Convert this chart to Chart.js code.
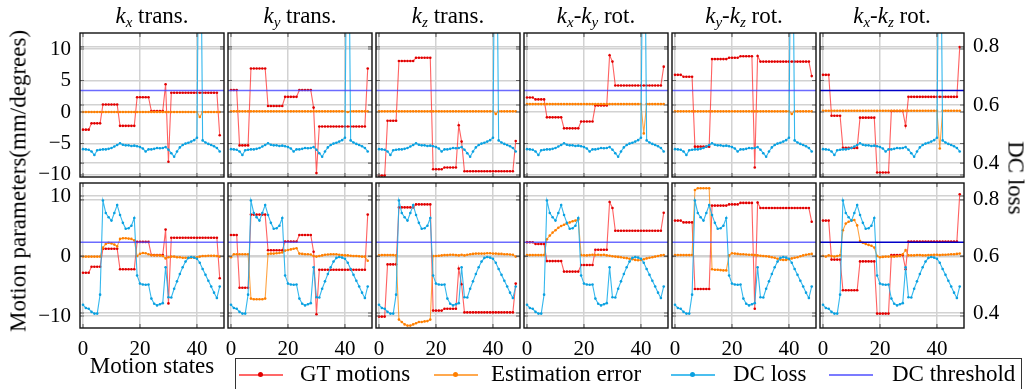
<!DOCTYPE html>
<html>
<head>
<meta charset="utf-8">
<script src="https://cdn.jsdelivr.net/npm/chart.js@4.4.1/dist/chart.umd.min.js"></script>
<style>
  body { margin: 0; background: #fff; width: 1027px; height: 389px; overflow: hidden; position: relative; font-family: "Liberation Serif", "Times New Roman", serif; }
  canvas { position: absolute; }
  .lbl { position: absolute; white-space: nowrap; color: #000; font-size: 23px; line-height: 1; }
  .title { text-align: center; width: 144px; top: 4px; }
  .title sub { font-size: 15px; vertical-align: -4px; line-height: 0; }
  #legend { position: absolute; left: 235px; top: 358px; width: 787px; height: 40px; border: 1px solid #333; box-sizing: border-box; }
  .swatch { position: absolute; height: 0; border-top: 2px solid; top: 15px; width: 44px; }
  .swatch i { position: absolute; left: 19px; top: -4px; width: 5px; height: 5px; border-radius: 50%; }
</style>
</head>
<body>
<div id="panels"></div>
<div class="lbl" style="left:18px; top:181px; transform: translate(-50%, -50%) rotate(-90deg);">Motion parameters(mm/degrees)</div>
<div class="lbl" style="left:1016px; top:178px; transform: translate(-50%, -50%) rotate(90deg);">DC loss</div>
<div class="lbl" style="left:152px; top:354px; transform: translateX(-50%);">Motion states</div>
<div id="legend">
  <div class="swatch" style="left:3px; border-color:rgba(255,40,40,0.7);"><i style="background:#e00000"></i></div>
  <div class="lbl" style="left:64px; top:3px;">GT motions</div>
  <div class="swatch" style="left:198px; border-color:rgba(255,140,20,0.75);"><i style="background:#ff7f00"></i></div>
  <div class="lbl" style="left:255px; top:3px;">Estimation error</div>
  <div class="swatch" style="left:435px; border-color:rgba(30,175,235,0.8);"><i style="background:#0aa0e0"></i></div>
  <div class="lbl" style="left:497px; top:3px;">DC loss</div>
  <div class="swatch" style="left:593px; border-color:rgba(90,90,255,0.8);"></div>
  <div class="lbl" style="left:656px; top:3px;">DC threshold</div>
</div>
<script>
// motion state index on the x axis
const motionStates = [0,1,2,3,4,5,6,7,8,9,10,11,12,13,14,15,16,17,18,19,20,21,22,23,24,25,26,27,28,29,30,31,32,33,34,35,36,37,38,39,40,41,42,43,44,45,46,47,48];

const panelTitles = [
  "<i>k</i><sub><i>x</i></sub> trans.",
  "<i>k</i><sub><i>y</i></sub> trans.",
  "<i>k</i><sub><i>z</i></sub> trans.",
  "<i>k</i><sub><i>x</i></sub>-<i>k</i><sub><i>y</i></sub> rot.",
  "<i>k</i><sub><i>y</i></sub>-<i>k</i><sub><i>z</i></sub> rot.",
  "<i>k</i><sub><i>x</i></sub>-<i>k</i><sub><i>z</i></sub> rot."
];

const xTicks = [0, 20, 40];
const leftTicksTop = [-10, -5, 0, 5, 10];
const leftTicksBottom = [-10, 0, 10];
const rightTicks = [0.4, 0.6, 0.8];

const dcThreshold = 0.65;

// GT motions (same in both rows)
const gtKx = [-2.8,-2.8,-2.8,-1.8,-1.8,-1.8,-1.8,1.2,1.2,1.2,1.2,1.2,1.2,-2.2,-2.2,-2.2,-2.2,-2.2,-2.2,2.35,2.35,2.35,2.35,2.35,0.15,0.15,0.15,0.15,0.15,4.4,-7.9,3.05,3.05,3.05,3.05,3.05,3.05,3.05,3.05,3.05,3.05,3.05,3.05,3.05,3.05,3.05,3.05,3.05,-3.7];
const gtKy = [3.5,3.5,3.5,-5.3,-5.3,-5.3,-5.3,6.9,6.9,6.9,6.9,6.9,6.9,0.95,0.95,0.95,0.95,0.95,0.95,2.4,2.4,2.4,2.4,2.4,3.5,3.5,3.5,3.5,3.5,0.7,-9.7,-2.3,-2.3,-2.3,-2.3,-2.3,-2.3,-2.3,-2.3,-2.3,-2.3,-2.3,-2.3,-2.3,-2.3,-2.3,-2.3,-2.3,6.9];
const gtKz = [-10.1,-10.1,-10.1,-1.4,-1.4,-1.4,-1.4,8.1,8.1,8.1,8.1,8.1,8.1,8.6,8.6,8.6,8.6,8.6,8.6,-9.1,-9.1,-9.1,-9.1,-8.8,-8.8,-8.8,-8.8,-8.8,-2.1,-4.7,-9.4,-9.4,-9.4,-9.4,-9.4,-9.4,-9.4,-9.4,-9.4,-9.4,-9.4,-9.4,-9.4,-9.4,-9.4,-9.4,-9.4,-9.4,-4.6];
const gtKxKy = [2.3,2.3,2.3,2.0,2.0,2.0,2.0,-0.85,-0.85,-0.85,-0.85,-0.85,-0.85,-2.6,-2.6,-2.6,-2.6,-2.6,-2.6,-1.5,-1.5,-1.5,-1.5,-1.5,1.05,1.05,1.05,1.05,1.05,9.0,8.0,4.2,4.2,4.2,4.2,4.2,4.2,4.2,4.2,4.2,4.2,4.2,4.2,4.2,4.2,4.2,4.2,4.2,7.2];
const gtKyKz = [5.9,5.9,5.9,5.6,5.6,5.6,5.6,-5.5,-5.5,-5.5,-5.5,-5.5,-5.5,8.4,8.4,8.4,8.4,8.4,8.4,8.6,8.6,8.6,8.6,8.85,8.85,8.85,8.85,8.85,-8.8,8.9,8.0,8.0,8.0,8.0,8.0,8.0,8.0,8.0,8.0,8.0,8.0,8.0,8.0,8.0,8.0,8.0,8.0,8.0,5.7];
const gtKxKz = [5.9,5.9,5.9,-0.6,-0.6,-0.6,-0.6,-5.7,-5.7,-5.7,-5.7,-5.7,-5.7,-0.9,-0.9,-0.9,-0.9,-0.9,-0.9,-9.6,-9.6,-9.6,-9.6,-9.6,0.15,0.15,0.15,0.15,0.15,-2.2,2.4,2.4,2.4,2.4,2.4,2.4,2.4,2.4,2.4,2.4,2.4,2.4,2.4,2.4,2.4,2.4,2.4,2.4,10.3];

// Estimation error, top row
const errTopKx = [0,0,0,0,0,0,0,0,0,0,0,0,0,0,0,0,0,0,0,0,0,0,0,0,0,0,0,0,0,0,0,0,0,0,0,0,0,0,0,0,0,-0.8,0,0,0,0,0,0,0];
const errTopKy = [0.1,0.1,0.1,0.1,0.1,0.1,0.1,0.1,0.1,0.1,0.1,0.1,0.1,0.1,0.1,0.1,0.1,0.1,0.1,0.1,0.1,0.1,0.1,0.1,0.1,0.1,0.1,0.1,0.1,0.1,0.1,0.1,0.1,0.1,0.1,0.1,0.1,0.1,0.1,0.1,0.1,0.0,0.1,0.1,0.1,0.1,0.1,0.1,0.1];
const errTopKz = [0.1,0.1,0.1,0.1,0.1,0.1,0.1,0.1,0.1,0.1,0.1,0.1,0.1,0.1,0.1,0.1,0.1,0.1,0.1,0.1,0.1,0.1,0.1,0.1,0.1,0.1,0.1,0.1,0.1,0.1,0.1,0.1,0.1,0.1,0.1,0.1,0.1,0.1,0.1,0.1,0.1,-0.3,0.1,0.1,0.1,0.1,0.1,0.1,0.1];
const errTopKxKy = [1.25,1.25,1.25,1.25,1.25,1.25,1.25,1.25,1.25,1.25,1.25,1.25,1.25,1.25,1.25,1.25,1.25,1.25,1.25,1.25,1.25,1.25,1.25,1.25,1.25,1.25,1.25,1.25,1.25,1.25,1.25,1.25,1.25,1.25,1.25,1.25,1.25,1.25,1.25,1.25,1.25,-3.4,1.25,1.25,1.25,1.25,1.25,1.25,1.25];
const errTopKyKz = [0.1,0.1,0.1,0.1,0.1,0.1,0.1,0.1,0.1,0.1,0.1,0.1,0.1,0.1,0.1,0.1,0.1,0.1,0.1,0.1,0.1,0.1,0.1,0.1,0.1,0.1,0.1,0.1,0.1,0.1,0.1,0.1,0.1,0.1,0.1,0.1,0.1,0.1,0.1,0.1,0.1,-0.3,0.1,0.1,0.1,0.1,0.1,0.1,0.1];
const errTopKxKz = [0.2,0.2,0.2,0.2,0.2,0.2,0.2,0.2,0.2,0.2,0.2,0.2,0.2,0.2,0.2,0.2,0.2,0.2,0.2,0.2,0.2,0.2,0.2,0.2,0.2,0.2,0.2,0.2,0.2,0.2,0.2,0.2,0.2,0.2,0.2,0.2,0.2,0.2,0.2,0.2,0.2,-5.8,0.2,0.2,0.2,0.2,0.2,0.2,0.2];

// Estimation error, bottom row
const errBotKx = [-0.1,-0.1,-0.1,-0.1,-0.1,-0.1,-0.1,1.4,2.0,2.2,2.1,1.9,1.6,2.85,2.95,2.95,2.9,2.85,2.6,0.0,0.35,0.5,0.45,0.3,0.15,0.1,0.1,0.1,0.0,-0.4,-0.2,-0.1,-0.1,-0.2,-0.2,-0.3,-0.3,-0.3,-0.3,-0.25,-0.2,-0.1,0.0,0.0,0.05,0.05,0.05,0.0,-0.1];
const errBotKy = [-0.2,0.3,0.3,0.3,0.3,0.3,0.3,-7.1,-7.2,-7.2,-7.2,-7.2,-7.1,0.35,0.4,0.4,0.45,0.5,0.6,0.9,1.0,1.1,1.2,1.3,0.4,0.35,0.3,0.3,0.25,0.0,-0.1,0.0,0.1,0.2,0.25,0.3,0.3,0.3,0.2,0.15,0.1,0.1,0.05,0.0,0.0,-0.05,-0.1,-0.1,-0.8];
const errBotKz = [0.1,0.15,0.15,0.15,0.15,0.15,0.1,-10.6,-11.0,-11.4,-11.6,-11.6,-11.4,-11.2,-11.0,-11.0,-10.9,-10.85,-10.6,0.0,0.0,0.05,0.1,0.15,0.15,0.2,0.2,0.15,0.1,0.2,0.1,0.2,0.3,0.35,0.4,0.4,0.4,0.4,0.45,0.45,0.4,0.4,0.35,0.35,0.3,0.3,0.25,0.2,-0.1];
const errBotKxKy = [0.15,0.15,0.15,0.15,0.15,0.15,0.15,2.8,3.4,3.9,4.3,4.7,5.0,5.2,5.4,5.6,5.8,5.9,6.1,0.15,0.1,0.1,0.15,0.2,0.15,0.2,0.15,0.2,0.1,0.05,-0.05,-0.1,-0.15,-0.2,-0.3,-0.35,-0.45,-0.55,-0.65,-0.7,-0.65,-0.55,-0.4,-0.3,-0.2,-0.1,0.0,0.1,0.15];
const errBotKyKz = [0.15,0.15,0.15,0.15,0.15,0.15,0.15,11.0,11.3,11.3,11.3,11.3,11.3,-2.2,-2.3,-2.3,-2.35,-2.4,-2.4,0.1,0.45,0.4,0.35,0.3,0.3,0.25,0.2,0.2,0.15,0.1,0.05,0.0,-0.05,-0.1,-0.2,-0.3,-0.45,-0.6,-0.65,-0.65,-0.55,-0.4,-0.3,-0.2,-0.05,0.1,0.2,0.3,0.35];
const errBotKxKz = [0.0,-0.1,0.1,0.0,-0.1,0.0,0.1,4.3,5.4,5.7,5.9,6.0,5.1,2.5,2.2,2.0,1.85,1.7,1.4,0.0,-0.2,-0.15,-0.1,-0.1,-0.1,-0.1,-0.05,0.0,0.3,1.0,0.1,0.1,0.1,0.15,0.15,0.1,0.1,0.15,0.15,0.2,0.2,0.15,0.2,0.2,0.25,0.3,0.3,0.35,0.4];

// DC loss (right axis), shared by the panels of a row
const dcLossTop = [0.448,0.447,0.446,0.440,0.428,0.444,0.446,0.447,0.447,0.449,0.452,0.457,0.462,0.468,0.463,0.461,0.461,0.459,0.460,0.458,0.455,0.450,0.440,0.447,0.447,0.449,0.452,0.451,0.452,0.455,0.446,0.434,0.422,0.440,0.454,0.462,0.467,0.470,0.474,0.479,0.487,1.6,0.478,0.471,0.466,0.462,0.458,0.452,0.440];
const dcLossBottom = [0.429,0.418,0.415,0.404,0.398,0.398,0.465,0.798,0.754,0.739,0.727,0.754,0.782,0.747,0.719,0.698,0.700,0.709,0.736,0.533,0.504,0.501,0.500,0.501,0.451,0.433,0.427,0.431,0.435,0.562,0.456,0.455,0.486,0.512,0.538,0.562,0.582,0.595,0.598,0.596,0.592,0.578,0.556,0.535,0.514,0.494,0.472,0.453,0.494];

const gtCols = [gtKx, gtKy, gtKz, gtKxKy, gtKyKz, gtKxKz];
const errTop = [errTopKx, errTopKy, errTopKz, errTopKxKy, errTopKyKz, errTopKxKz];
const errBottom = [errBotKx, errBotKy, errBotKz, errBotKxKy, errBotKyKz, errBotKxKz];

// layout
const X_MIN = -1.05, X_MAX = 49.5;
const PANEL_W = 144, COL_STEP = 148, FIRST_LEFT = 80;
const rows = [
  { top: 33, h: 144, yMin: -10.32, yMax: 12.54, y2Min: 0.352, y2Max: 0.848, leftTicks: leftTicksTop, err: errTop, dc: dcLossTop },
  { top: 183, h: 145, yMin: -12, yMax: 12.17, y2Min: 0.347, y2Max: 0.86, leftTicks: leftTicksBottom, err: errBottom, dc: dcLossBottom }
];
const PADL = 60, PADR = 60, PADT = 4, PADB = 40;

const TICK_FONT = { family: "Liberation Serif", size: 21 };
const GRID = "#d2d2d2";

const framePlugin = {
  id: "frame",
  afterDatasetsDraw(chart) {
    const { ctx, chartArea: a, scales } = chart;
    ctx.save();
    // inward tick marks on all four sides
    ctx.strokeStyle = "#666";
    ctx.lineWidth = 1.2;
    ctx.beginPath();
    ["y", "y2"].forEach((id) => {
      scales[id].ticks.forEach((t) => {
        const py = scales[id].getPixelForValue(t.value);
        ctx.moveTo(a.left, py); ctx.lineTo(a.left + 4, py);
        ctx.moveTo(a.right, py); ctx.lineTo(a.right - 4, py);
      });
    });
    scales.x.ticks.forEach((t) => {
      const px = scales.x.getPixelForValue(t.value);
      ctx.moveTo(px, a.bottom); ctx.lineTo(px, a.bottom - 4);
      ctx.moveTo(px, a.top); ctx.lineTo(px, a.top + 4);
    });
    ctx.stroke();
    ctx.strokeStyle = "#111";
    ctx.lineWidth = 1.4;
    ctx.strokeRect(a.left, a.top, a.right - a.left, a.bottom - a.top);
    ctx.restore();
  }
};

function series(values, line, point, axis, order) {
  return {
    data: values.map((v, i) => ({ x: motionStates[i], y: v })),
    yAxisID: axis,
    borderColor: line,
    backgroundColor: point,
    pointBackgroundColor: point,
    borderWidth: 1.1,
    pointRadius: 1.3,
    pointBorderWidth: 0,
    order: order
  };
}

function makePanel(r, c) {
  const row = rows[r];
  const left = FIRST_LEFT + c * COL_STEP;
  const canvas = document.createElement("canvas");
  const w = PANEL_W + PADL + PADR, h = row.h + PADT + PADB;
  canvas.width = w; canvas.height = h;
  canvas.style.left = (left - PADL) + "px";
  canvas.style.top = (row.top - PADT) + "px";
  canvas.style.width = w + "px"; canvas.style.height = h + "px";
  document.getElementById("panels").appendChild(canvas);

  const threshColor = c === 5 ? "#0000c8" : "rgba(70,70,255,0.8)";
  const fmt = (v) => (v < 0 ? "\u2212" + Math.abs(v) : String(v));

  new Chart(canvas.getContext("2d"), {
    type: "line",
    data: {
      datasets: [
        series(gtCols[c], "rgba(255,30,30,0.7)", "#e00000", "y", 4),
        series(row.err[c], "rgba(255,140,20,0.8)", "#ff7f00", "y", 3),
        series(row.dc, "rgba(30,175,235,0.9)", "#0aa0e0", "y2", 2),
        {
          data: [{ x: X_MIN, y: dcThreshold }, { x: X_MAX, y: dcThreshold }],
          yAxisID: "y2", borderColor: threshColor, borderWidth: 1.5, pointRadius: 0, order: 1
        }
      ]
    },
    options: {
      responsive: false,
      animation: false,
      events: [],
      layout: { padding: { top: PADT, left: 0, right: 0, bottom: 0 } },
      plugins: { legend: { display: false }, tooltip: { enabled: false } },
      scales: {
        x: {
          type: "linear", min: X_MIN, max: X_MAX,
          afterBuildTicks: (s) => { s.ticks = xTicks.map((v) => ({ value: v })); },
          afterFit: (s) => { s.height = PADB; s.paddingLeft = 0; s.paddingRight = 0; },
          grid: { color: GRID, lineWidth: 1.5, drawTicks: false },
          border: { display: false },
          ticks: { display: r === 1, padding: 9, color: "#000", font: TICK_FONT, maxRotation: 0, callback: fmt }
        },
        y: {
          position: "left", min: row.yMin, max: row.yMax,
          afterBuildTicks: (s) => { s.ticks = row.leftTicks.map((v) => ({ value: v })); },
          afterFit: (s) => { s.width = PADL; s.paddingTop = 0; s.paddingBottom = 0; },
          grid: { color: GRID, lineWidth: 1.5, drawTicks: false },
          border: { display: false },
          ticks: { display: c === 0, padding: 9, color: "#000", font: TICK_FONT, callback: fmt }
        },
        y2: {
          position: "right", min: row.y2Min, max: row.y2Max,
          afterBuildTicks: (s) => { s.ticks = rightTicks.map((v) => ({ value: v })); },
          afterFit: (s) => { s.width = PADR; s.paddingTop = 0; s.paddingBottom = 0; },
          grid: { color: GRID, lineWidth: 1.5, drawTicks: false },
          border: { display: false },
          ticks: { display: c === 5, padding: 9, color: "#000", font: TICK_FONT, callback: (v) => v.toFixed(1) }
        }
      }
    },
    plugins: [framePlugin]
  });
}

panelTitles.forEach((t, c) => {
  const d = document.createElement("div");
  d.className = "lbl title";
  d.style.left = (FIRST_LEFT + c * COL_STEP) + "px";
  d.innerHTML = t;
  document.body.appendChild(d);
});

for (let r = 0; r < rows.length; r++) {
  for (let c = 0; c < 6; c++) makePanel(r, c);
}
</script>
</body>
</html>
